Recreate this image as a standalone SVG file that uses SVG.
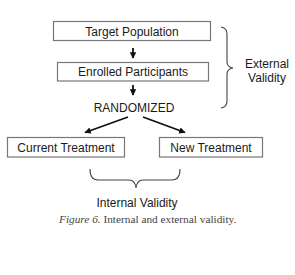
<svg xmlns="http://www.w3.org/2000/svg" width="295" height="275" viewBox="0 0 295 275">
<defs>
<style>
.box{fill:#fff;stroke:#777;stroke-width:1.2}
.t{font-family:"Liberation Sans",Arial,sans-serif;font-size:12px;fill:#1a1a1a;text-anchor:middle}
.edge{stroke:#111;stroke-width:1.8;fill:none}
.brace{stroke:#444;stroke-width:1.1;fill:none}
.cap{font-family:"Liberation Serif","Times New Roman",serif;font-size:11.3px;fill:#444}
</style>
<marker id="ah" viewBox="0 0 10 10" refX="9" refY="5" markerWidth="6.5" markerHeight="6.5" orient="auto" markerUnits="userSpaceOnUse">
<path d="M0,0 L10,5 L0,10 z" fill="#111"/>
</marker>
</defs>
<rect width="295" height="275" fill="#fff"/>
<g id="target">
<rect class="box" x="53.5" y="21.5" width="157" height="19"/>
<text class="t" x="132" y="35.5">Target Population</text>
</g>
<g id="enrolled">
<rect class="box" x="57.5" y="62.5" width="151" height="18.5"/>
<text class="t" x="133" y="76">Enrolled Participants</text>
</g>
<g id="randomized">
<text class="t" x="134" y="112">RANDOMIZED</text>
</g>
<g id="current">
<rect class="box" x="7.5" y="137.5" width="117" height="19.5"/>
<text class="t" x="66" y="152">Current Treatment</text>
</g>
<g id="new">
<rect class="box" x="159.5" y="137.5" width="103" height="19.5"/>
<text class="t" x="211" y="152">New Treatment</text>
</g>
<g id="connectors">
<line class="edge" x1="133" y1="48" x2="133" y2="58" marker-end="url(#ah)"/>
<line class="edge" x1="133" y1="85" x2="133" y2="95" marker-end="url(#ah)"/>
<line class="edge" x1="128" y1="117" x2="85" y2="132.5" marker-end="url(#ah)"/>
<line class="edge" x1="143" y1="117" x2="185" y2="132.5" marker-end="url(#ah)"/>
</g>
<g id="external-validity">
<path class="brace" d="M221,27 Q227,28 227,34 L227,62 Q227,67 233,68 Q227,69 227,74 L227,101 Q227,107 221,108"/>
<text class="t" x="267" y="68">External</text>
<text class="t" x="267" y="82">Validity</text>
</g>
<g id="internal-validity">
<path class="brace" d="M90,169 Q90,180 98,180 L129,180 Q135,180 136,188 Q137,180 143,180 L172,180 Q180,180 180,169"/>
<text class="t" x="137" y="207">Internal Validity</text>
</g>
<text class="cap" x="59" y="223"><tspan font-style="italic">Figure 6.</tspan> Internal and external validity.</text>
</svg>
